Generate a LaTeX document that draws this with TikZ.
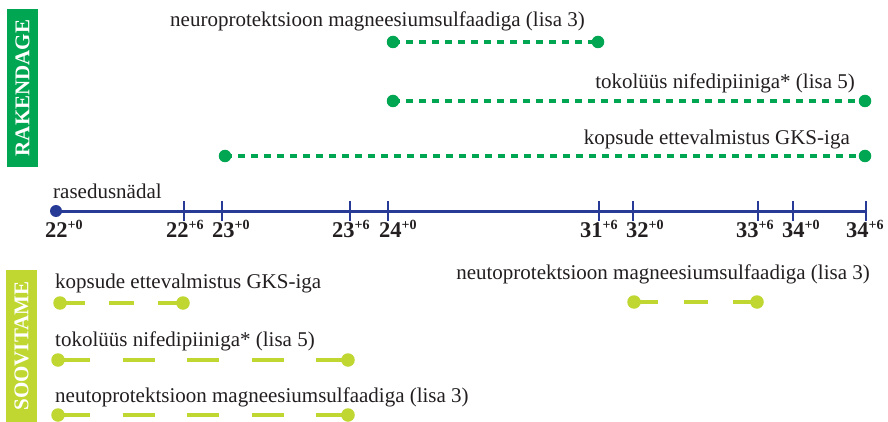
\documentclass[tikz,border=0pt]{standalone}
\usepackage{fontspec}
\setmainfont{Liberation Serif}
\definecolor{gr}{RGB}{0,166,81}
\definecolor{lime}{RGB}{191,215,48}
\definecolor{tlblue}{RGB}{38,58,150}
\definecolor{txt}{RGB}{35,31,32}
\newcommand{\wk}[2]{#1\raisebox{8pt}{\fontsize{14}{14}\selectfont #2}}
\begin{document}
\begin{tikzpicture}[x=1pt,y=-1pt,
  lbl/.style={font=\fontsize{21}{24}\selectfont, inner sep=0pt, text=txt},
  num/.style={font=\fontsize{22.5}{24}\selectfont\bfseries, inner sep=0pt, text=txt, anchor=base west},
  sidebox/.style={rotate=90, inner sep=0pt, text=white, font=\fontsize{21}{24}\selectfont\bfseries, minimum height=31pt},
  gline/.style={draw=gr, line width=3.4pt, dash pattern=on 7pt off 6pt},
  gdot/.style={circle, fill=gr, inner sep=0pt, minimum size=12.5pt},
  lline/.style={draw=lime, line width=4pt},
  ldot/.style={circle, fill=lime, inner sep=0pt, minimum size=13.5pt},
  tl/.style={draw=tlblue, line width=3pt},
  tdot/.style={circle, fill=tlblue, inner sep=0pt, minimum size=12pt}]
\useasboundingbox (0,0) rectangle (888,422);
\fill[white] (0,0) rectangle (888,422);

% side boxes
\node[sidebox, fill=gr, minimum width=158pt] (rak) at (22.5,88) {RAKENDAGE};
\node[sidebox, fill=lime, minimum width=152pt] (soo) at (21.5,346) {SOOVITAME};

% timeline
\coordinate (t0) at (56,211);
\coordinate (tend) at (866,211);
\draw[tl] (t0) -- (tend);
\node[tdot] (t0dot) at (t0) {};
\foreach \n/\x in {a/184,b/222,c/350,d/388,e/599,f/633,g/758,h/793,i/866}{
  \coordinate (tk\n1) at (\x,201);
  \coordinate (tk\n2) at (\x,221);
  \draw[tl, line width=2.4pt] (tk\n1) -- (tk\n2);
}
\node[lbl, anchor=base west] (ras) at (53,198) {rasedusnädal};
\node[num] (l1) at (45,237) {\wk{22}{+0}};
\node[num] (l2) at (166,237) {\wk{22}{+6}};
\node[num] (l3) at (212,237) {\wk{23}{+0}};
\node[num] (l4) at (332,237) {\wk{23}{+6}};
\node[num] (l5) at (379,237) {\wk{24}{+0}};
\node[num] (l6) at (580,237) {\wk{31}{+6}};
\node[num] (l7) at (626,237) {\wk{32}{+0}};
\node[num] (l8) at (736,237) {\wk{33}{+6}};
\node[num] (l9) at (782,237) {\wk{34}{+0}};
\node[num] (l10) at (846,237) {\wk{34}{+6}};

% RAKENDAGE lines
\node[lbl, anchor=base west] (r1t) at (170,27) {neuroprotektsioon magneesiumsulfaadiga (lisa 3)};
\coordinate (r1a) at (393,42); \coordinate (r1b) at (598,42);
\draw[gline] (r1a) -- (r1b);
\node[gdot] (r1ad) at (r1a) {}; \node[gdot] (r1bd) at (r1b) {};

\node[lbl, anchor=base east] (r2t) at (855,89) {tokolüüs nifedipiiniga* (lisa 5)};
\coordinate (r2a) at (393,101); \coordinate (r2b) at (865,101);
\draw[gline] (r2a) -- (r2b);
\node[gdot] (r2ad) at (r2a) {}; \node[gdot] (r2bd) at (r2b) {};

\node[lbl, anchor=base east] (r3t) at (850,145) {kopsude ettevalmistus GKS-iga};
\coordinate (r3a) at (225,156); \coordinate (r3b) at (865,156);
\draw[gline] (r3a) -- (r3b);
\node[gdot] (r3ad) at (r3a) {}; \node[gdot] (r3bd) at (r3b) {};

% SOOVITAME lines
\node[lbl, anchor=base west] (s1t) at (55,288) {kopsude ettevalmistus GKS-iga};
\coordinate (s1a) at (60,303); \coordinate (s1b) at (183,303);
\draw[lline, dash pattern=on 25pt off 24pt] (s1a) -- (s1b);
\node[ldot] (s1ad) at (s1a) {}; \node[ldot] (s1bd) at (s1b) {};

\node[lbl, anchor=base west] (s2t) at (55,346) {tokolüüs nifedipiiniga* (lisa 5)};
\coordinate (s2a) at (58,360); \coordinate (s2b) at (348,360);
\draw[lline, dash pattern=on 32pt off 32.5pt] (s2a) -- (s2b);
\node[ldot] (s2ad) at (s2a) {}; \node[ldot] (s2bd) at (s2b) {};

\node[lbl, anchor=base west] (s3t) at (55,402) {neutoprotektsioon magneesiumsulfaadiga (lisa 3)};
\coordinate (s3a) at (58,415); \coordinate (s3b) at (348,415);
\draw[lline, dash pattern=on 32pt off 32.5pt] (s3a) -- (s3b);
\node[ldot] (s3ad) at (s3a) {}; \node[ldot] (s3bd) at (s3b) {};

\node[lbl, anchor=base east] (s4t) at (870,279) {neutoprotektsioon magneesiumsulfaadiga (lisa 3)};
\coordinate (s4a) at (634,302); \coordinate (s4b) at (757,302);
\draw[lline, dash pattern=on 24pt off 25.5pt] (s4a) -- (s4b);
\node[ldot] (s4ad) at (s4a) {}; \node[ldot] (s4bd) at (s4b) {};
\end{tikzpicture}
\end{document}
